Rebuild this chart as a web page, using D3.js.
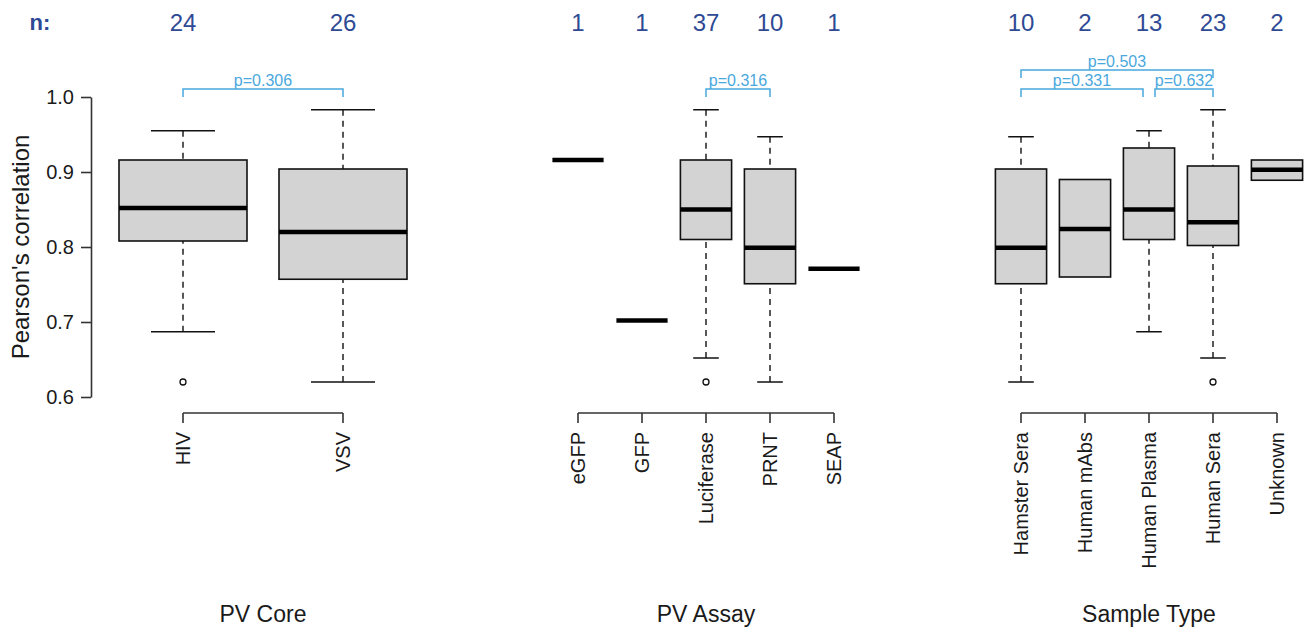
<!DOCTYPE html>
<html>
<head>
<meta charset="utf-8">
<script src="https://cdn.jsdelivr.net/npm/d3@7"></script>
<style>
  body { margin: 0; background: #fff; }
  svg text { font-family: "Liberation Sans", Arial, sans-serif; }
</style>
</head>
<body>
<svg id="chart" width="1306" height="633"></svg>
<script>
// box stats are [lowWhisker, q1, median, q3, highWhisker]
var coreCats = ["HIV", "VSV"];
var coreN = [24, 26];
var coreStats = [[0.687, 0.808, 0.852, 0.916, 0.955], [0.620, 0.757, 0.820, 0.904, 0.983]];
var coreOut = [[0.620], []];
var coreP = [["HIV", "VSV", "p=0.306"]];

var assayCats = ["eGFP", "GFP", "Luciferase", "PRNT", "SEAP"];
var assayN = [1, 1, 37, 10, 1];
var assayStats = [[0.916, 0.916, 0.916, 0.916, 0.916], [0.702, 0.702, 0.702, 0.702, 0.702],
  [0.652, 0.810, 0.850, 0.916, 0.983], [0.620, 0.751, 0.799, 0.904, 0.947], [0.771, 0.771, 0.771, 0.771, 0.771]];
var assayOut = [[], [], [0.620], [], []];
var assayP = [["Luciferase", "PRNT", "p=0.316"]];

var sampleCats = ["Hamster Sera", "Human mAbs", "Human Plasma", "Human Sera", "Unknown"];
var sampleN = [10, 2, 13, 23, 2];
var sampleStats = [[0.620, 0.751, 0.799, 0.904, 0.947], [0.760, 0.760, 0.824, 0.890, 0.890],
  [0.687, 0.810, 0.850, 0.932, 0.955], [0.652, 0.802, 0.833, 0.908, 0.983], [0.889, 0.889, 0.903, 0.916, 0.916]];
var sampleOut = [[], [], [], [0.620], []];
var sampleP = [["Hamster Sera", "Human Plasma", "p=0.331"], ["Human Plasma", "Human Sera", "p=0.632"],
  ["Hamster Sera", "Human Sera", "p=0.503"]];

var yTicks = [0.6, 0.7, 0.8, 0.9, 1.0];

var panels = [
  {title: "PV Core", cats: coreCats, n: coreN, stats: coreStats, out: coreOut, p: coreP, x0: 103},
  {title: "PV Assay", cats: assayCats, n: assayN, stats: assayStats, out: assayOut, p: assayP, x0: 546},
  {title: "Sample Type", cats: sampleCats, n: sampleN, stats: sampleStats, out: sampleOut, p: sampleP, x0: 989}
];

var svg = d3.select("#chart");
var nColor = "#2e4a94", pColor = "#4aa8dd";
var panelW = 320, axisY = 413;

var y = d3.scaleLinear().domain([0.6, 1.0]).range([397, 97]);

// y axis
var yAxis = svg.append("g")
    .attr("transform", "translate(91,0)")
    .call(d3.axisLeft(y).tickValues(yTicks).tickSize(10).tickSizeOuter(0).tickPadding(7).tickFormat(d3.format(".1f")));
yAxis.select(".domain").attr("stroke", "#333").attr("stroke-width", 1.6);
yAxis.selectAll(".tick line").attr("stroke", "#333").attr("stroke-width", 1.6);
yAxis.selectAll("text").style("font-size", "20px").attr("fill", "#1a1a1a");

svg.append("text")
    .attr("transform", "translate(29," + y(0.8) + ") rotate(-90)")
    .attr("text-anchor", "middle")
    .style("font-size", "24px")
    .attr("fill", "#1a1a1a")
    .text("Pearson's correlation");

svg.append("text")
    .attr("x", 40).attr("y", 30)
    .attr("text-anchor", "middle")
    .style("font-size", "22px").style("font-weight", "bold")
    .attr("fill", nColor)
    .text("n:");

panels.forEach(function(pn) {
    var x = d3.scaleBand().domain(pn.cats).range([pn.x0, pn.x0 + panelW]);
    var bw = x.bandwidth() * 0.8;
    var cx = function(c) { return x(c) + x.bandwidth() / 2; };
    var g = svg.append("g");

    // n counts
    g.selectAll("text.n")
        .data(pn.cats)
        .enter().append("text")
        .attr("class", "n")
        .attr("x", cx).attr("y", 31)
        .attr("text-anchor", "middle")
        .style("font-size", "24px")
        .attr("fill", nColor)
        .text(function(d, i) { return pn.n[i]; });

    // boxes
    var box = g.selectAll("g.box")
        .data(pn.cats)
        .enter().append("g")
        .attr("class", "box");

    box.each(function(c, i) {
        var s = pn.stats[i];
        var b = d3.select(this);
        var xc = cx(c);
        if (s[0] < s[1]) {
            b.append("line").attr("x1", xc).attr("x2", xc).attr("y1", y(s[0])).attr("y2", y(s[1]))
                .attr("stroke", "#111").attr("stroke-width", 1.4).attr("stroke-dasharray", "6,5");
            b.append("line").attr("x1", xc - bw / 4).attr("x2", xc + bw / 4).attr("y1", y(s[0])).attr("y2", y(s[0]))
                .attr("stroke", "#111").attr("stroke-width", 1.5);
        }
        if (s[4] > s[3]) {
            b.append("line").attr("x1", xc).attr("x2", xc).attr("y1", y(s[4])).attr("y2", y(s[3]))
                .attr("stroke", "#111").attr("stroke-width", 1.4).attr("stroke-dasharray", "6,5");
            b.append("line").attr("x1", xc - bw / 4).attr("x2", xc + bw / 4).attr("y1", y(s[4])).attr("y2", y(s[4]))
                .attr("stroke", "#111").attr("stroke-width", 1.5);
        }
        if (s[3] > s[1]) {
            b.append("rect")
                .attr("x", xc - bw / 2).attr("width", bw)
                .attr("y", y(s[3])).attr("height", y(s[1]) - y(s[3]))
                .attr("fill", "#d3d3d3").attr("stroke", "#111").attr("stroke-width", 1.6);
        }
        b.append("line").attr("x1", xc - bw / 2).attr("x2", xc + bw / 2).attr("y1", y(s[2])).attr("y2", y(s[2]))
            .attr("stroke", "#000").attr("stroke-width", 4.5);
        pn.out[i].forEach(function(v) {
            b.append("circle").attr("cx", xc).attr("cy", y(v)).attr("r", 3)
                .attr("fill", "none").attr("stroke", "#111").attr("stroke-width", 1.3);
        });
    });

    // category axis
    var ax = g.append("g")
        .attr("transform", "translate(0," + axisY + ")")
        .call(d3.axisBottom(x).tickSize(10).tickSizeOuter(0));
    ax.select(".domain").remove();
    ax.append("line")
        .attr("x1", cx(pn.cats[0])).attr("x2", cx(pn.cats[pn.cats.length - 1]))
        .attr("stroke", "#333").attr("stroke-width", 1.6);
    ax.selectAll(".tick line").attr("stroke", "#333").attr("stroke-width", 1.6);
    ax.selectAll(".tick text")
        .attr("transform", "rotate(-90)")
        .attr("x", -19).attr("y", 0).attr("dy", "0.35em")
        .style("text-anchor", "end")
        .style("font-size", "20px")
        .attr("fill", "#1a1a1a");

    // panel title
    g.append("text")
        .attr("x", pn.x0 + panelW / 2).attr("y", 622)
        .attr("text-anchor", "middle")
        .style("font-size", "23px")
        .attr("fill", "#1a1a1a")
        .text(pn.title);

    // p-value brackets
    pn.p.forEach(function(p, k) {
        var a = pn.cats.indexOf(p[0]), e = pn.cats.indexOf(p[1]);
        var level = pn.p.some(function(q, j) {
            var qa = pn.cats.indexOf(q[0]), qe = pn.cats.indexOf(q[1]);
            return j !== k && qa >= a && qe <= e && (qe - qa) < (e - a);
        }) ? 1 : 0;
        var x1 = cx(p[0]), x2 = cx(p[1]);
        pn.p.forEach(function(q, j) {
            if (j === k) return;
            if (q[1] === p[0] && level === 0) x1 += 6;
            if (q[0] === p[1] && level === 0) x2 -= 6;
        });
        var top = level ? 70 : 89, leg = 8;
        g.append("path")
            .attr("d", "M" + x1 + "," + (top + leg) + "V" + top + "H" + x2 + "V" + (top + leg))
            .attr("fill", "none").attr("stroke", pColor).attr("stroke-width", 1.5);
        g.append("text")
            .attr("x", (x1 + x2) / 2).attr("y", top - 3)
            .attr("text-anchor", "middle")
            .style("font-size", "16px")
            .attr("fill", pColor)
            .text(p[2]);
    });
});
</script>
</body>
</html>
